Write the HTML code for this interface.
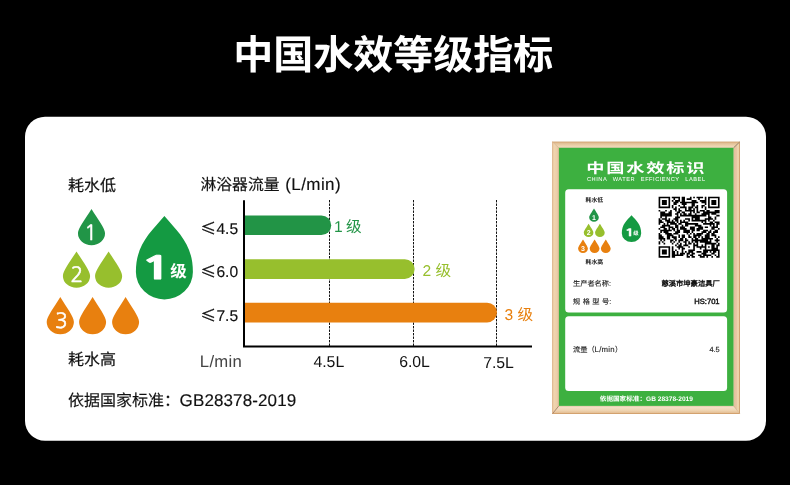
<!DOCTYPE html>
<html lang="zh-CN">
<head>
<meta charset="utf-8">
<title>中国水效等级指标</title>
<style>
html,body{margin:0;padding:0;background:#000;}
body{width:790px;height:485px;overflow:hidden;position:relative;font-family:"Liberation Sans", "Noto Sans CJK SC", sans-serif;}
svg{position:absolute;left:0;top:0;display:block;}
svg text{font-family:"Liberation Sans", "Noto Sans CJK SC", sans-serif;white-space:pre;text-rendering:geometricPrecision;}
</style>
</head>
<body>
<svg width="790" height="485" viewBox="0 0 790 485">
<rect x="25" y="116.7" width="741" height="324.1" rx="20" ry="20" fill="#fff"/>
<path d="M91.50,209.00 C97.60,218.77 105.05,228.19 105.05,233.36 A13.55,11.84 0 0 1 77.95,233.36 C77.95,228.19 85.40,218.77 91.50,209.00Z" fill="#219547"/>
<path d="M76.50,251.40 C82.62,261.23 90.10,270.69 90.10,275.90 A13.60,11.90 0 0 1 62.90,275.90 C62.90,270.69 70.38,261.23 76.50,251.40Z" fill="#97bf2d"/>
<path d="M108.60,251.40 C114.70,261.23 122.15,270.69 122.15,275.90 A13.55,11.90 0 0 1 95.05,275.90 C95.05,270.69 102.50,261.23 108.60,251.40Z" fill="#97bf2d"/>
<path d="M60.30,297.00 C66.42,307.04 73.90,316.72 73.90,322.04 A13.60,12.16 0 0 1 46.70,322.04 C46.70,316.72 54.18,307.04 60.30,297.00Z" fill="#e8800f"/>
<path d="M92.60,297.00 C98.67,307.04 106.10,316.72 106.10,322.04 A13.50,12.16 0 0 1 79.10,322.04 C79.10,316.72 86.52,307.04 92.60,297.00Z" fill="#e8800f"/>
<path d="M125.60,297.00 C131.67,307.04 139.10,316.72 139.10,322.04 A13.50,12.16 0 0 1 112.10,322.04 C112.10,316.72 119.52,307.04 125.60,297.00Z" fill="#e8800f"/>
<path d="M164.40,216.00 C178.65,232.68 192.90,244.61 192.90,271.88 A28.50,27.52 0 0 1 135.90,271.88 C135.90,244.61 150.15,232.68 164.40,216.00Z" fill="#149a42"/>
<g stroke="#111" stroke-width="1" stroke-dasharray="2.4 1.1" fill="none"><path d="M329.5,200V346"/><path d="M413.5,200V346"/><path d="M496.5,200V346"/></g>
<path d="M244,215.5H321.4a9.8,9.8 0 0 1 0,19.6H244z" fill="#229446"/>
<path d="M244,259.2H404.8a9.85,9.85 0 0 1 0,19.7H244z" fill="#97bf2d"/>
<path d="M244,302.7H487.1a9.9,9.9 0 0 1 0,19.8H244z" fill="#e8800f"/>
<path d="M244,200.3V346.4H532" stroke="#000" stroke-width="2" fill="none"/>
<defs><linearGradient id="wt" x1="0" y1="0" x2="0" y2="1"><stop offset="0" stop-color="#d2a878"/><stop offset="0.18" stop-color="#e0bc92"/><stop offset="0.6" stop-color="#ecd0aa"/><stop offset="1" stop-color="#f1dcc0"/></linearGradient><linearGradient id="wb" x1="0" y1="0" x2="0" y2="1"><stop offset="0" stop-color="#f5e4cf"/><stop offset="0.55" stop-color="#efd5b3"/><stop offset="0.85" stop-color="#e6c197"/><stop offset="1" stop-color="#c99560"/></linearGradient><linearGradient id="wl" x1="0" y1="0" x2="1" y2="0"><stop offset="0" stop-color="#e6c199"/><stop offset="0.3" stop-color="#f0d5ae"/><stop offset="0.65" stop-color="#ecceab"/><stop offset="1" stop-color="#e4bf98"/></linearGradient><linearGradient id="wr" x1="0" y1="0" x2="1" y2="0"><stop offset="0" stop-color="#e3bf9c"/><stop offset="0.5" stop-color="#e8c7a5"/><stop offset="0.72" stop-color="#f3dcb2"/><stop offset="0.86" stop-color="#e6c197"/><stop offset="1" stop-color="#b08460"/></linearGradient></defs>
<path d="M552.3,141.7H740.0L733.5,147.8H558.9Z" fill="url(#wt)"/>
<path d="M552.3,413.9H740.0L733.5,405.9H558.9Z" fill="url(#wb)"/>
<path d="M552.3,141.7V413.9L558.9,405.9V147.8Z" fill="url(#wl)"/>
<path d="M740.0,141.7V413.9L733.5,405.9V147.8Z" fill="url(#wr)"/>
<path d="M552.3,141.7L558.9,147.8" stroke="#b98a5e" stroke-width="0.5" opacity="0.7"/>
<path d="M740.0,141.7L733.5,147.8" stroke="#5b4632" stroke-width="0.7" opacity="0.85"/>
<path d="M552.3,413.9L558.9,405.9" stroke="#7a4b33" stroke-width="0.7" opacity="0.85"/>
<path d="M740.0,413.9L733.5,405.9" stroke="#b98a5e" stroke-width="0.5" opacity="0.7"/>
<rect x="552.5999999999999" y="142.0" width="187.1" height="271.6" fill="none" stroke="#d3a06c" stroke-width="0.6" opacity="0.8"/>
<rect x="558.6" y="147.5" width="175.2" height="258.7" fill="none" stroke="#dcb88e" stroke-width="0.6" opacity="0.8"/>
<rect x="558.9" y="147.8" width="174.6" height="258.1" fill="#3db040"/>
<rect x="565.2" y="189.3" width="161.9" height="123.1" rx="3.5" fill="#fff"/>
<rect x="565.2" y="316.2" width="161.9" height="74.8" rx="3.5" fill="#fff"/>
<path d="M594.00,208.60 C596.16,212.16 598.80,215.60 598.80,217.48 A4.80,4.32 0 0 1 589.20,217.48 C589.20,215.60 591.84,212.16 594.00,208.60Z" fill="#219547"/>
<path d="M588.60,223.80 C590.76,227.36 593.40,230.80 593.40,232.68 A4.80,4.32 0 0 1 583.80,232.68 C583.80,230.80 586.44,227.36 588.60,223.80Z" fill="#97bf2d"/>
<path d="M599.90,223.80 C602.06,227.36 604.70,230.80 604.70,232.68 A4.80,4.32 0 0 1 595.10,232.68 C595.10,230.80 597.74,227.36 599.90,223.80Z" fill="#97bf2d"/>
<path d="M583.00,239.40 C585.21,243.07 587.90,246.61 587.90,248.55 A4.90,4.45 0 0 1 578.10,248.55 C578.10,246.61 580.79,243.07 583.00,239.40Z" fill="#e8800f"/>
<path d="M594.60,239.40 C596.81,243.07 599.50,246.61 599.50,248.55 A4.90,4.45 0 0 1 589.70,248.55 C589.70,246.61 592.39,243.07 594.60,239.40Z" fill="#e8800f"/>
<path d="M605.80,239.40 C608.00,243.07 610.70,246.61 610.70,248.55 A4.90,4.45 0 0 1 600.90,248.55 C600.90,246.61 603.59,243.07 605.80,239.40Z" fill="#e8800f"/>
<path d="M631.50,215.20 C636.35,220.56 641.20,224.39 641.20,233.16 A9.70,8.84 0 0 1 621.80,233.16 C621.80,224.39 626.65,220.56 631.50,215.20Z" fill="#149a42"/>
<g transform="translate(658.6,196.7)"><path d="M0.00,0.00h11.54v1.65h-11.54zM13.19,0.00h8.24v1.65h-8.24zM23.08,0.00h3.30v1.65h-3.30zM31.32,0.00h1.65v1.65h-1.65zM34.62,0.00h1.65v1.65h-1.65zM37.92,0.00h6.59v1.65h-6.59zM46.16,0.00h1.65v1.65h-1.65zM49.46,0.00h11.54v1.65h-11.54zM0.00,1.65h1.65v1.65h-1.65zM9.89,1.65h1.65v1.65h-1.65zM14.84,1.65h1.65v1.65h-1.65zM19.78,1.65h1.65v1.65h-1.65zM23.08,1.65h3.30v1.65h-3.30zM28.03,1.65h4.95v1.65h-4.95zM39.57,1.65h1.65v1.65h-1.65zM46.16,1.65h1.65v1.65h-1.65zM49.46,1.65h1.65v1.65h-1.65zM59.35,1.65h1.65v1.65h-1.65zM0.00,3.30h1.65v1.65h-1.65zM3.30,3.30h4.95v1.65h-4.95zM9.89,3.30h1.65v1.65h-1.65zM13.19,3.30h1.65v1.65h-1.65zM16.49,3.30h4.95v1.65h-4.95zM23.08,3.30h3.30v1.65h-3.30zM32.97,3.30h4.95v1.65h-4.95zM41.22,3.30h6.59v1.65h-6.59zM49.46,3.30h1.65v1.65h-1.65zM52.76,3.30h4.95v1.65h-4.95zM59.35,3.30h1.65v1.65h-1.65zM0.00,4.95h1.65v1.65h-1.65zM3.30,4.95h4.95v1.65h-4.95zM9.89,4.95h1.65v1.65h-1.65zM14.84,4.95h4.95v1.65h-4.95zM21.43,4.95h18.14v1.65h-18.14zM42.86,4.95h4.95v1.65h-4.95zM49.46,4.95h1.65v1.65h-1.65zM52.76,4.95h4.95v1.65h-4.95zM59.35,4.95h1.65v1.65h-1.65zM0.00,6.59h1.65v1.65h-1.65zM3.30,6.59h4.95v1.65h-4.95zM9.89,6.59h1.65v1.65h-1.65zM14.84,6.59h3.30v1.65h-3.30zM23.08,6.59h4.95v1.65h-4.95zM32.97,6.59h3.30v1.65h-3.30zM46.16,6.59h1.65v1.65h-1.65zM49.46,6.59h1.65v1.65h-1.65zM52.76,6.59h4.95v1.65h-4.95zM59.35,6.59h1.65v1.65h-1.65zM0.00,8.24h1.65v1.65h-1.65zM9.89,8.24h1.65v1.65h-1.65zM13.19,8.24h1.65v1.65h-1.65zM19.78,8.24h1.65v1.65h-1.65zM24.73,8.24h1.65v1.65h-1.65zM32.97,8.24h3.30v1.65h-3.30zM37.92,8.24h1.65v1.65h-1.65zM42.86,8.24h3.30v1.65h-3.30zM49.46,8.24h1.65v1.65h-1.65zM59.35,8.24h1.65v1.65h-1.65zM0.00,9.89h11.54v1.65h-11.54zM13.19,9.89h1.65v1.65h-1.65zM16.49,9.89h1.65v1.65h-1.65zM21.43,9.89h6.59v1.65h-6.59zM29.68,9.89h4.95v1.65h-4.95zM36.27,9.89h3.30v1.65h-3.30zM42.86,9.89h1.65v1.65h-1.65zM46.16,9.89h1.65v1.65h-1.65zM49.46,9.89h11.54v1.65h-11.54zM14.84,11.54h3.30v1.65h-3.30zM19.78,11.54h1.65v1.65h-1.65zM26.38,11.54h1.65v1.65h-1.65zM29.68,11.54h3.30v1.65h-3.30zM34.62,11.54h1.65v1.65h-1.65zM37.92,11.54h1.65v1.65h-1.65zM46.16,11.54h1.65v1.65h-1.65zM0.00,13.19h1.65v1.65h-1.65zM6.59,13.19h1.65v1.65h-1.65zM11.54,13.19h1.65v1.65h-1.65zM16.49,13.19h1.65v1.65h-1.65zM19.78,13.19h3.30v1.65h-3.30zM26.38,13.19h9.89v1.65h-9.89zM37.92,13.19h1.65v1.65h-1.65zM41.22,13.19h4.95v1.65h-4.95zM47.81,13.19h3.30v1.65h-3.30zM56.05,13.19h4.95v1.65h-4.95zM1.65,14.84h4.95v1.65h-4.95zM9.89,14.84h3.30v1.65h-3.30zM18.14,14.84h3.30v1.65h-3.30zM23.08,14.84h3.30v1.65h-3.30zM31.32,14.84h1.65v1.65h-1.65zM34.62,14.84h1.65v1.65h-1.65zM37.92,14.84h3.30v1.65h-3.30zM44.51,14.84h16.49v1.65h-16.49zM1.65,16.49h11.54v1.65h-11.54zM16.49,16.49h3.30v1.65h-3.30zM21.43,16.49h1.65v1.65h-1.65zM24.73,16.49h3.30v1.65h-3.30zM29.68,16.49h3.30v1.65h-3.30zM36.27,16.49h1.65v1.65h-1.65zM42.86,16.49h8.24v1.65h-8.24zM52.76,16.49h4.95v1.65h-4.95zM1.65,18.14h11.54v1.65h-11.54zM18.14,18.14h1.65v1.65h-1.65zM21.43,18.14h26.38v1.65h-26.38zM49.46,18.14h1.65v1.65h-1.65zM57.70,18.14h3.30v1.65h-3.30zM1.65,19.78h1.65v1.65h-1.65zM6.59,19.78h1.65v1.65h-1.65zM16.49,19.78h4.95v1.65h-4.95zM32.97,19.78h8.24v1.65h-8.24zM49.46,19.78h3.30v1.65h-3.30zM56.05,19.78h1.65v1.65h-1.65zM0.00,21.43h1.65v1.65h-1.65zM3.30,21.43h4.95v1.65h-4.95zM9.89,21.43h1.65v1.65h-1.65zM14.84,21.43h4.95v1.65h-4.95zM26.38,21.43h4.95v1.65h-4.95zM32.97,21.43h1.65v1.65h-1.65zM36.27,21.43h4.95v1.65h-4.95zM46.16,21.43h8.24v1.65h-8.24zM56.05,21.43h1.65v1.65h-1.65zM0.00,23.08h3.30v1.65h-3.30zM6.59,23.08h4.95v1.65h-4.95zM13.19,23.08h1.65v1.65h-1.65zM16.49,23.08h3.30v1.65h-3.30zM21.43,23.08h1.65v1.65h-1.65zM24.73,23.08h1.65v1.65h-1.65zM29.68,23.08h1.65v1.65h-1.65zM32.97,23.08h14.84v1.65h-14.84zM49.46,23.08h1.65v1.65h-1.65zM54.41,23.08h1.65v1.65h-1.65zM0.00,24.73h4.95v1.65h-4.95zM8.24,24.73h8.24v1.65h-8.24zM18.14,24.73h1.65v1.65h-1.65zM21.43,24.73h8.24v1.65h-8.24zM42.86,24.73h1.65v1.65h-1.65zM46.16,24.73h1.65v1.65h-1.65zM51.11,24.73h3.30v1.65h-3.30zM56.05,24.73h4.95v1.65h-4.95zM0.00,26.38h1.65v1.65h-1.65zM4.95,26.38h1.65v1.65h-1.65zM8.24,26.38h1.65v1.65h-1.65zM11.54,26.38h6.59v1.65h-6.59zM19.78,26.38h3.30v1.65h-3.30zM26.38,26.38h13.19v1.65h-13.19zM44.51,26.38h11.54v1.65h-11.54zM57.70,26.38h3.30v1.65h-3.30zM3.30,28.03h8.24v1.65h-8.24zM16.49,28.03h3.30v1.65h-3.30zM23.08,28.03h1.65v1.65h-1.65zM26.38,28.03h3.30v1.65h-3.30zM36.27,28.03h6.59v1.65h-6.59zM51.11,28.03h1.65v1.65h-1.65zM54.41,28.03h1.65v1.65h-1.65zM57.70,28.03h1.65v1.65h-1.65zM1.65,29.68h4.95v1.65h-4.95zM9.89,29.68h4.95v1.65h-4.95zM16.49,29.68h3.30v1.65h-3.30zM21.43,29.68h4.95v1.65h-4.95zM31.32,29.68h4.95v1.65h-4.95zM39.57,29.68h4.95v1.65h-4.95zM46.16,29.68h3.30v1.65h-3.30zM52.76,29.68h6.59v1.65h-6.59zM0.00,31.32h1.65v1.65h-1.65zM4.95,31.32h3.30v1.65h-3.30zM9.89,31.32h1.65v1.65h-1.65zM13.19,31.32h3.30v1.65h-3.30zM18.14,31.32h1.65v1.65h-1.65zM21.43,31.32h6.59v1.65h-6.59zM31.32,31.32h4.95v1.65h-4.95zM37.92,31.32h6.59v1.65h-6.59zM52.76,31.32h3.30v1.65h-3.30zM59.35,31.32h1.65v1.65h-1.65zM1.65,32.97h11.54v1.65h-11.54zM14.84,32.97h1.65v1.65h-1.65zM18.14,32.97h3.30v1.65h-3.30zM24.73,32.97h6.59v1.65h-6.59zM32.97,32.97h3.30v1.65h-3.30zM37.92,32.97h3.30v1.65h-3.30zM44.51,32.97h4.95v1.65h-4.95zM51.11,32.97h1.65v1.65h-1.65zM56.05,32.97h3.30v1.65h-3.30zM1.65,34.62h1.65v1.65h-1.65zM4.95,34.62h4.95v1.65h-4.95zM16.49,34.62h4.95v1.65h-4.95zM24.73,34.62h6.59v1.65h-6.59zM32.97,34.62h1.65v1.65h-1.65zM42.86,34.62h4.95v1.65h-4.95zM49.46,34.62h3.30v1.65h-3.30zM54.41,34.62h4.95v1.65h-4.95zM0.00,36.27h1.65v1.65h-1.65zM6.59,36.27h6.59v1.65h-6.59zM14.84,36.27h4.95v1.65h-4.95zM28.03,36.27h1.65v1.65h-1.65zM31.32,36.27h1.65v1.65h-1.65zM34.62,36.27h1.65v1.65h-1.65zM37.92,36.27h6.59v1.65h-6.59zM47.81,36.27h3.30v1.65h-3.30zM52.76,36.27h3.30v1.65h-3.30zM0.00,37.92h3.30v1.65h-3.30zM8.24,37.92h6.59v1.65h-6.59zM19.78,37.92h1.65v1.65h-1.65zM23.08,37.92h3.30v1.65h-3.30zM29.68,37.92h1.65v1.65h-1.65zM34.62,37.92h8.24v1.65h-8.24zM46.16,37.92h4.95v1.65h-4.95zM52.76,37.92h4.95v1.65h-4.95zM0.00,39.57h4.95v1.65h-4.95zM8.24,39.57h3.30v1.65h-3.30zM13.19,39.57h4.95v1.65h-4.95zM19.78,39.57h1.65v1.65h-1.65zM23.08,39.57h3.30v1.65h-3.30zM29.68,39.57h3.30v1.65h-3.30zM34.62,39.57h3.30v1.65h-3.30zM39.57,39.57h1.65v1.65h-1.65zM42.86,39.57h1.65v1.65h-1.65zM46.16,39.57h4.95v1.65h-4.95zM56.05,39.57h1.65v1.65h-1.65zM59.35,39.57h1.65v1.65h-1.65zM0.00,41.22h6.59v1.65h-6.59zM8.24,41.22h3.30v1.65h-3.30zM14.84,41.22h3.30v1.65h-3.30zM21.43,41.22h3.30v1.65h-3.30zM26.38,41.22h1.65v1.65h-1.65zM32.97,41.22h1.65v1.65h-1.65zM36.27,41.22h3.30v1.65h-3.30zM42.86,41.22h11.54v1.65h-11.54zM57.70,41.22h1.65v1.65h-1.65zM1.65,42.86h1.65v1.65h-1.65zM4.95,42.86h1.65v1.65h-1.65zM11.54,42.86h3.30v1.65h-3.30zM16.49,42.86h1.65v1.65h-1.65zM19.78,42.86h4.95v1.65h-4.95zM26.38,42.86h3.30v1.65h-3.30zM32.97,42.86h16.49v1.65h-16.49zM51.11,42.86h1.65v1.65h-1.65zM56.05,42.86h4.95v1.65h-4.95zM0.00,44.51h1.65v1.65h-1.65zM3.30,44.51h1.65v1.65h-1.65zM11.54,44.51h1.65v1.65h-1.65zM14.84,44.51h1.65v1.65h-1.65zM19.78,44.51h1.65v1.65h-1.65zM24.73,44.51h3.30v1.65h-3.30zM29.68,44.51h1.65v1.65h-1.65zM32.97,44.51h1.65v1.65h-1.65zM36.27,44.51h3.30v1.65h-3.30zM41.22,44.51h11.54v1.65h-11.54zM57.70,44.51h1.65v1.65h-1.65zM0.00,46.16h1.65v1.65h-1.65zM4.95,46.16h1.65v1.65h-1.65zM13.19,46.16h1.65v1.65h-1.65zM18.14,46.16h1.65v1.65h-1.65zM21.43,46.16h1.65v1.65h-1.65zM26.38,46.16h1.65v1.65h-1.65zM29.68,46.16h3.30v1.65h-3.30zM34.62,46.16h1.65v1.65h-1.65zM37.92,46.16h1.65v1.65h-1.65zM46.16,46.16h11.54v1.65h-11.54zM59.35,46.16h1.65v1.65h-1.65zM16.49,47.81h1.65v1.65h-1.65zM19.78,47.81h3.30v1.65h-3.30zM24.73,47.81h4.95v1.65h-4.95zM34.62,47.81h4.95v1.65h-4.95zM42.86,47.81h1.65v1.65h-1.65zM46.16,47.81h1.65v1.65h-1.65zM52.76,47.81h3.30v1.65h-3.30zM57.70,47.81h3.30v1.65h-3.30zM0.00,49.46h11.54v1.65h-11.54zM13.19,49.46h1.65v1.65h-1.65zM18.14,49.46h6.59v1.65h-6.59zM29.68,49.46h1.65v1.65h-1.65zM34.62,49.46h1.65v1.65h-1.65zM37.92,49.46h9.89v1.65h-9.89zM49.46,49.46h1.65v1.65h-1.65zM52.76,49.46h3.30v1.65h-3.30zM57.70,49.46h1.65v1.65h-1.65zM0.00,51.11h1.65v1.65h-1.65zM9.89,51.11h1.65v1.65h-1.65zM13.19,51.11h1.65v1.65h-1.65zM19.78,51.11h1.65v1.65h-1.65zM23.08,51.11h3.30v1.65h-3.30zM34.62,51.11h1.65v1.65h-1.65zM41.22,51.11h1.65v1.65h-1.65zM46.16,51.11h1.65v1.65h-1.65zM52.76,51.11h6.59v1.65h-6.59zM0.00,52.76h1.65v1.65h-1.65zM3.30,52.76h4.95v1.65h-4.95zM9.89,52.76h1.65v1.65h-1.65zM13.19,52.76h1.65v1.65h-1.65zM16.49,52.76h1.65v1.65h-1.65zM23.08,52.76h1.65v1.65h-1.65zM29.68,52.76h6.59v1.65h-6.59zM44.51,52.76h16.49v1.65h-16.49zM0.00,54.41h1.65v1.65h-1.65zM3.30,54.41h4.95v1.65h-4.95zM9.89,54.41h1.65v1.65h-1.65zM13.19,54.41h3.30v1.65h-3.30zM18.14,54.41h1.65v1.65h-1.65zM23.08,54.41h1.65v1.65h-1.65zM26.38,54.41h1.65v1.65h-1.65zM29.68,54.41h4.95v1.65h-4.95zM37.92,54.41h4.95v1.65h-4.95zM44.51,54.41h4.95v1.65h-4.95zM51.11,54.41h1.65v1.65h-1.65zM54.41,54.41h3.30v1.65h-3.30zM59.35,54.41h1.65v1.65h-1.65zM0.00,56.05h1.65v1.65h-1.65zM3.30,56.05h4.95v1.65h-4.95zM9.89,56.05h1.65v1.65h-1.65zM13.19,56.05h3.30v1.65h-3.30zM18.14,56.05h1.65v1.65h-1.65zM21.43,56.05h4.95v1.65h-4.95zM28.03,56.05h3.30v1.65h-3.30zM32.97,56.05h3.30v1.65h-3.30zM42.86,56.05h4.95v1.65h-4.95zM52.76,56.05h3.30v1.65h-3.30zM59.35,56.05h1.65v1.65h-1.65zM0.00,57.70h1.65v1.65h-1.65zM9.89,57.70h1.65v1.65h-1.65zM13.19,57.70h11.54v1.65h-11.54zM28.03,57.70h1.65v1.65h-1.65zM31.32,57.70h3.30v1.65h-3.30zM39.57,57.70h3.30v1.65h-3.30zM44.51,57.70h8.24v1.65h-8.24zM56.05,57.70h1.65v1.65h-1.65zM59.35,57.70h1.65v1.65h-1.65zM0.00,59.35h11.54v1.65h-11.54zM13.19,59.35h3.30v1.65h-3.30zM28.03,59.35h3.30v1.65h-3.30zM32.97,59.35h3.30v1.65h-3.30zM41.22,59.35h4.95v1.65h-4.95zM47.81,59.35h1.65v1.65h-1.65zM52.76,59.35h1.65v1.65h-1.65zM57.70,59.35h3.30v1.65h-3.30z" fill="#000"/></g>
<text x="233.2" y="68.9" font-size="40" fill="#fff" font-weight="bold" text-anchor="start" >中国水效等级指标</text>
<text x="68" y="190.5" font-size="16" fill="#111" font-weight="normal" text-anchor="start" stroke="#111" stroke-width="0.2">耗水低</text>
<text x="68" y="364.5" font-size="16" fill="#111" font-weight="normal" text-anchor="start" stroke="#111" stroke-width="0.2">耗水高</text>
<text x="200.5" y="189.9" font-size="15.8" fill="#111" font-weight="normal" text-anchor="start" stroke="#111" stroke-width="0.15">淋浴器流量<tspan x="285.3" font-size="17" letter-spacing="0.4">(L/min)</tspan></text>
<text x="200.6" y="233.6" font-size="15.6" fill="#111" font-weight="normal" text-anchor="start" stroke="#111" stroke-width="0.15"><tspan font-family="'Noto Sans CJK SC', sans-serif">≤</tspan><tspan x="216.4">4.5</tspan></text>
<text x="200.6" y="277.1" font-size="15.6" fill="#111" font-weight="normal" text-anchor="start" stroke="#111" stroke-width="0.15"><tspan font-family="'Noto Sans CJK SC', sans-serif">≤</tspan><tspan x="216.4">6.0</tspan></text>
<text x="200.6" y="320.6" font-size="15.6" fill="#111" font-weight="normal" text-anchor="start" stroke="#111" stroke-width="0.15"><tspan font-family="'Noto Sans CJK SC', sans-serif">≤</tspan><tspan x="216.4">7.5</tspan></text>
<text x="199.8" y="367.3" font-size="16.7" fill="#444" font-weight="normal" text-anchor="start" letter-spacing="0.3">L/min</text>
<text x="328.8" y="367.3" font-size="15.8" fill="#111" font-weight="normal" text-anchor="middle" >4.5L</text>
<text x="414.5" y="367.3" font-size="15.8" fill="#111" font-weight="normal" text-anchor="middle" >6.0L</text>
<text x="498.5" y="368.3" font-size="15.8" fill="#111" font-weight="normal" text-anchor="middle" >7.5L</text>
<text x="334" y="232" font-size="15.6" fill="#229446" font-weight="normal" text-anchor="start" >1<tspan x="346">级</tspan></text>
<text x="422.5" y="276" font-size="15.6" fill="#97bf2d" font-weight="normal" text-anchor="start" >2<tspan x="435.5">级</tspan></text>
<text x="504.5" y="319.5" font-size="15.6" fill="#e8800f" font-weight="normal" text-anchor="start" >3<tspan x="517.5">级</tspan></text>
<text x="68" y="405.5" font-size="16" fill="#111" font-weight="normal" text-anchor="start" stroke="#111" stroke-width="0.15">依据国家标准：<tspan x="179.6" font-size="17" letter-spacing="0.12">GB28378-2019</tspan></text>
<text x="90.6" y="239.6" font-size="21" fill="#fff" font-weight="normal" text-anchor="middle" style="font-family:'NanumGothic','Liberation Sans',sans-serif" stroke="#fff" stroke-width="0.5">1</text>
<text x="76.9" y="281.6" font-size="21" fill="#fff" font-weight="normal" text-anchor="middle" style="font-family:'NanumGothic','Liberation Sans',sans-serif" stroke="#fff" stroke-width="0.5">2</text>
<text x="61.3" y="327.9" font-size="21" fill="#fff" font-weight="normal" text-anchor="middle" style="font-family:'NanumGothic','Liberation Sans',sans-serif" stroke="#fff" stroke-width="0.5">3</text>
<text x="0" y="0" font-size="31" fill="#fff" font-weight="bold" text-anchor="middle" style="font-family:'NanumGothic','Liberation Sans',sans-serif" stroke="#fff" stroke-width="1" stroke-linejoin="miter" transform="translate(156.3,278.9) scale(1.72,1.01)">1</text>
<text x="170.2" y="277.4" font-size="16.5" fill="#fff" font-weight="bold" text-anchor="start" >级</text>
<text x="0" y="0" font-size="13.8" fill="#fff" font-weight="bold" text-anchor="start" letter-spacing="1.35" transform="translate(586.3,172.9) scale(1.32,1)">中国水效标识</text>
<text x="587.0" y="181.1" font-size="5.7" fill="#fff" font-weight="normal" text-anchor="start" letter-spacing="0.5" word-spacing="3.7">CHINA WATER EFFICIENCY LABEL</text>
<text x="585.6" y="201.8" font-size="5.9" fill="#222" font-weight="bold" text-anchor="start" >耗水低</text>
<text x="585.6" y="264.3" font-size="5.9" fill="#222" font-weight="bold" text-anchor="start" >耗水高</text>
<text x="594.0" y="219.7" font-size="7" fill="#fff" font-weight="bold" text-anchor="middle" >1</text>
<text x="588.6" y="234.9" font-size="7" fill="#fff" font-weight="bold" text-anchor="middle" >2</text>
<text x="583.0" y="250.9" font-size="7" fill="#fff" font-weight="bold" text-anchor="middle" >3</text>
<text x="0" y="0" font-size="10" fill="#fff" font-weight="bold" text-anchor="middle" style="font-family:'NanumGothic','Liberation Sans',sans-serif" stroke="#fff" stroke-width="0.3" transform="translate(629.7,235.6) scale(1.7,1)">1</text>
<text x="633.3" y="235.2" font-size="5.3" fill="#fff" font-weight="bold" text-anchor="start" >级</text>
<text x="573" y="286.4" font-size="7.2" fill="#222" font-weight="normal" text-anchor="start" stroke="#222" stroke-width="0.12">生产者名称:</text>
<text x="719.8" y="286.4" font-size="7.3" fill="#111" font-weight="normal" text-anchor="end" stroke="#111" stroke-width="0.38">慈溪市坤豪洁具厂</text>
<text x="573" y="304.1" font-size="7.2" fill="#222" font-weight="normal" text-anchor="start" stroke="#222" stroke-width="0.12" word-spacing="0.5">规 格 型 号:</text>
<text x="719.6" y="303.7" font-size="7.6" fill="#111" font-weight="normal" text-anchor="end" stroke="#111" stroke-width="0.4">HS:701</text>
<text x="573" y="352.3" font-size="7.2" fill="#222" font-weight="normal" text-anchor="start" stroke="#222" stroke-width="0.12">流量（<tspan font-size="7.8" letter-spacing="0.25">L/min</tspan>）</text>
<text x="719.7" y="351.7" font-size="7.4" fill="#222" font-weight="normal" text-anchor="end" stroke="#222" stroke-width="0.15">4.5</text>
<text x="646.4" y="401.4" font-size="6.6" fill="#fff" font-weight="bold" text-anchor="middle" >依据国家标准：GB 28378-2019</text>
</svg>
</body>
</html>
